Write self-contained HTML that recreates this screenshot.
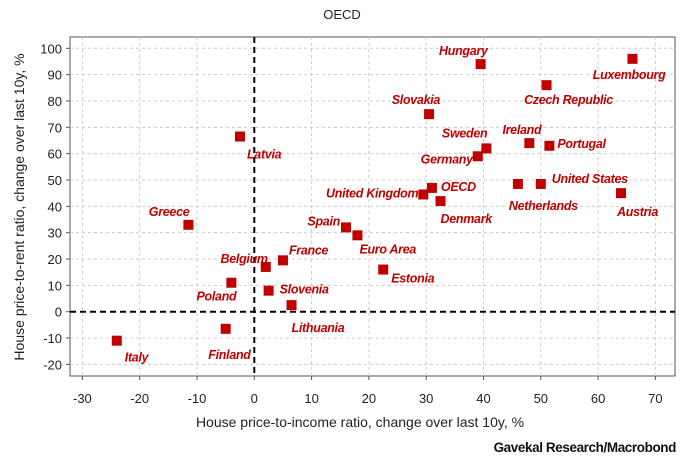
<!DOCTYPE html>
<html><head><meta charset="utf-8"><style>
body{margin:0;background:#fff;}
svg{font-family:"Liberation Sans",sans-serif;}
.lbl{font-weight:bold;font-style:italic;font-size:12.5px;fill:#c00000;letter-spacing:-0.3px;}
.tick{font-size:13px;fill:#222;}
</style></head><body>
<svg id="chart" width="685" height="465" viewBox="0 0 685 465" xmlns="http://www.w3.org/2000/svg">
<text x="342" y="19" text-anchor="middle" font-size="13" fill="#222">OECD</text>
<rect x="70" y="37" width="605" height="339" fill="none" stroke="#555" stroke-width="1"/>
<g id="grid"></g><g id="axes"></g><g id="points"></g>
<text transform="translate(24,207) rotate(-90)" text-anchor="middle" font-size="14" fill="#222">House price-to-rent ratio, change over last 10y, %</text>
<text x="360" y="427" text-anchor="middle" font-size="14" fill="#222">House price-to-income ratio, change over last 10y, %</text>
<text x="676" y="452" text-anchor="end" font-size="13.5" font-weight="bold" fill="#111" letter-spacing="-0.4">Gavekal Research/Macrobond</text>
</svg>
<script>
const countries=["Luxembourg","Hungary","Czech Republic","Slovakia","Ireland","Portugal","Sweden","Germany","Latvia","United Kingdom","OECD","Denmark","Netherlands","United States","Austria","Greece","Spain","Euro Area","France","Belgium","Estonia","Poland","Slovenia","Lithuania","Finland","Italy"];
const incomeChange=[66,39.5,51,30.5,48,51.5,40.5,39,-2.5,29.5,31,32.5,46,50,64,-11.5,16,18,5,2,22.5,-4,2.5,6.5,-5,-24];
const rentChange=[96,94,86,75,64,63,62,59,66.5,44.5,47,42,48.5,48.5,45,33,32,29,19.5,17,16,11,8,2.5,-6.5,-11];
const xTicks=[-30,-20,-10,0,10,20,30,40,50,60,70];
const yTicks=[-20,-10,0,10,20,30,40,50,60,70,80,90,100];
// label offsets (styling): dx, dy, anchor
const labelOffsets=[[33,20,"end"],[7,-9,"end"],[22,19,"middle"],[11,-10,"end"],[12,-9,"end"],[8,2,"start"],[1,-11,"end"],[-5,7,"end"],[7,22,"start"],[-5,3,"end"],[9,3,"start"],[0,22,"start"],[-9,26,"start"],[11,-1,"start"],[-4,23,"start"],[1,-9,"end"],[-6,-2,"end"],[2,18,"start"],[6,-6,"start"],[2,-4,"end"],[8,13,"start"],[5,18,"end"],[11,3,"start"],[0,27,"start"],[25,30,"end"],[8,21,"start"]];
const NS="http://www.w3.org/2000/svg";
const X=v=>254.3+v*5.73, Y=v=>311.7-v*2.634;
function mk(tag,attrs,parent){const e=document.createElementNS(NS,tag);for(const k in attrs)e.setAttribute(k,attrs[k]);parent.appendChild(e);return e;}
const grid=document.getElementById('grid'),axes=document.getElementById('axes'),pts=document.getElementById('points');
xTicks.forEach(t=>{
  const l=mk('line',{x1:X(t),x2:X(t),y1:37,y2:376,stroke:t===0?'#000':'#ccc','stroke-width':t===0?2:1,'stroke-dasharray':t===0?'6,4':'3,3'},grid);
  
  
  const tk=mk('line',{x1:X(t),x2:X(t),y1:376,y2:380,stroke:'#555'},axes);
  
  
  const tx=mk('text',{x:X(t),y:403,'text-anchor':'middle',class:'tick'},axes);tx.textContent=t;
  
  
});
yTicks.forEach(t=>{
  const l=mk('line',{x1:70,x2:675,y1:Y(t),y2:Y(t),stroke:t===0?'#000':'#ccc','stroke-width':t===0?2:1,'stroke-dasharray':t===0?'6,4':'3,3'},grid);
  
  
  const tk=mk('line',{x1:66,x2:70,y1:Y(t),y2:Y(t),stroke:'#555'},axes);
  
  
  const tx=mk('text',{x:62,y:Y(t)+5,'text-anchor':'end',class:'tick'},axes);tx.textContent=t;
  
  
});
countries.forEach((c,i)=>{
  const px=X(incomeChange[i]),py=Y(rentChange[i]);
  const r=mk('rect',{x:px-5,y:py-5,width:10,height:10,fill:'#c00000'},pts);
  
  
  const o=labelOffsets[i];
  const t=mk('text',{x:px+o[0],y:py+o[1],'text-anchor':o[2],class:'lbl'},pts);t.textContent=c;
  
  
});
</script>
</body></html>
